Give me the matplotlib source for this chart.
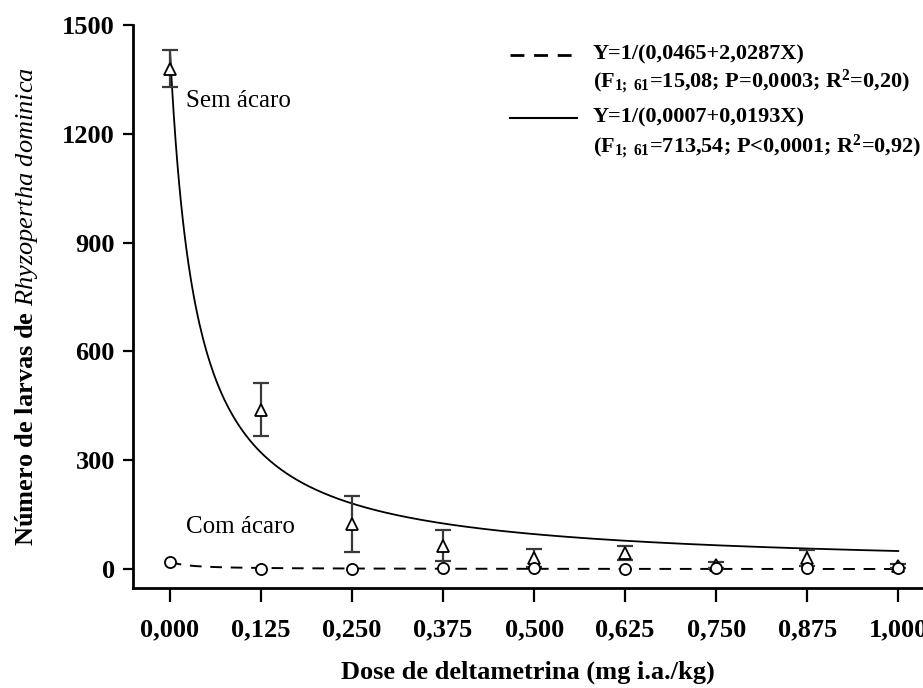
import numpy as np
import matplotlib
matplotlib.use("Agg")
import matplotlib.pyplot as plt

plt.rcParams['font.family'] = ['Liberation Serif', 'DejaVu Serif']
plt.rcParams['mathtext.fontset'] = 'custom'
plt.rcParams['mathtext.rm'] = 'Liberation Serif:bold'
plt.rcParams['mathtext.bf'] = 'Liberation Serif:bold'
plt.rcParams['mathtext.it'] = 'Liberation Serif:italic'

# doses (mg i.a./kg)
doses = [0.000, 0.125, 0.250, 0.375, 0.500, 0.625, 0.750, 0.875, 1.000]
dose_labels = ['0,000', '0,125', '0,250', '0,375', '0,500', '0,625', '0,750', '0,875', '1,000']

# without mites (Sem ácaro): mean and standard error
sem_mean = [1380, 440, 125, 65, 30, 45, 11, 30, 8]
sem_err = [50, 72, 77, 43, 25, 20, 8, 22, 5]

# with mites (Com ácaro)
com_mean = [20, 1, 1, 2, 3, 1, 2, 2, 4]

# fitted models Y = 1/(a + bX)
fit_com = (0.0465, 2.0287)
fit_sem = (0.0007, 0.0193)

y_ticks = [0, 300, 600, 900, 1200, 1500]

fig = plt.figure(figsize=(9.23, 6.88), dpi=100)
ax = fig.add_axes([0.144, 0.1453, 0.856, 0.8184])

xs = np.linspace(0, 1, 400)
ax.plot(xs, 1 / (fit_sem[0] + fit_sem[1] * xs), color='black', lw=1.3, zorder=2)
ax.plot(xs, 1 / (fit_com[0] + fit_com[1] * xs), color='black', lw=1.4,
        dashes=(6, 4.5), zorder=2)

ax.errorbar(doses, sem_mean, yerr=sem_err, fmt='none', ecolor='#3a3a3a',
            elinewidth=1.6, capsize=6, capthick=1.6, zorder=3)
ax.plot(doses, sem_mean, linestyle='none', marker='^', markersize=9,
        markerfacecolor='white', markeredgecolor='black', markeredgewidth=1.3, zorder=4)
ax.plot(doses, com_mean, linestyle='none', marker='o', markersize=8,
        markerfacecolor='white', markeredgecolor='black', markeredgewidth=1.3, zorder=4)

ax.set_xlim(-0.051, 1.034)
ax.set_ylim(-52, 1500)
ax.set_xticks(doses)
ax.set_xticklabels(dose_labels)
ax.set_yticks(y_ticks)

for s in ['top', 'right']:
    ax.spines[s].set_visible(False)
for s in ['left', 'bottom']:
    ax.spines[s].set_linewidth(2)
ax.tick_params(axis='both', direction='out', width=1.6, labelsize=19)
ax.tick_params(axis='x', length=10, pad=12)
ax.tick_params(axis='y', length=7, pad=6)
for lab in ax.get_xticklabels() + ax.get_yticklabels():
    lab.set_fontweight('bold')

ax.set_xlabel('Dose de deltametrina (mg i.a./kg)', fontsize=19, fontweight='bold', labelpad=14)
ax.set_ylabel(r'Número de larvas de $\mathit{Rhyzopertha\ dominica}$', fontsize=19,
              fontweight='bold', labelpad=16)

ax.text(0.022, 1290, 'Sem ácaro', fontsize=18, va='center', ha='left')
ax.text(0.022, 115, 'Com ácaro', fontsize=18, va='center', ha='left')

# equations block, top right
ax.plot([0.477, 0.562], [0.947, 0.947], transform=ax.transAxes, color='black',
        lw=2, dashes=(5, 3.5), clip_on=False)
ax.plot([0.477, 0.562], [0.835, 0.835], transform=ax.transAxes, color='black',
        lw=1.5, clip_on=False)
eq_lines = [
    (0.947, 'Y=1/(0,0465+2,0287X)'),
    (0.897, r'(F$_{1;\ 61}$=15,08; P=0,0003; R$^{2}$=0,20)'),
    (0.835, 'Y=1/(0,0007+0,0193X)'),
    (0.783, r'(F$_{1;\ 61}$=713,54; P<0,0001; R$^{2}$=0,92)'),
]
for y, s in eq_lines:
    ax.text(0.582, y, s, transform=ax.transAxes, fontsize=16, fontweight='bold',
            va='center', ha='left')

fig.savefig('out.png', dpi=100)
